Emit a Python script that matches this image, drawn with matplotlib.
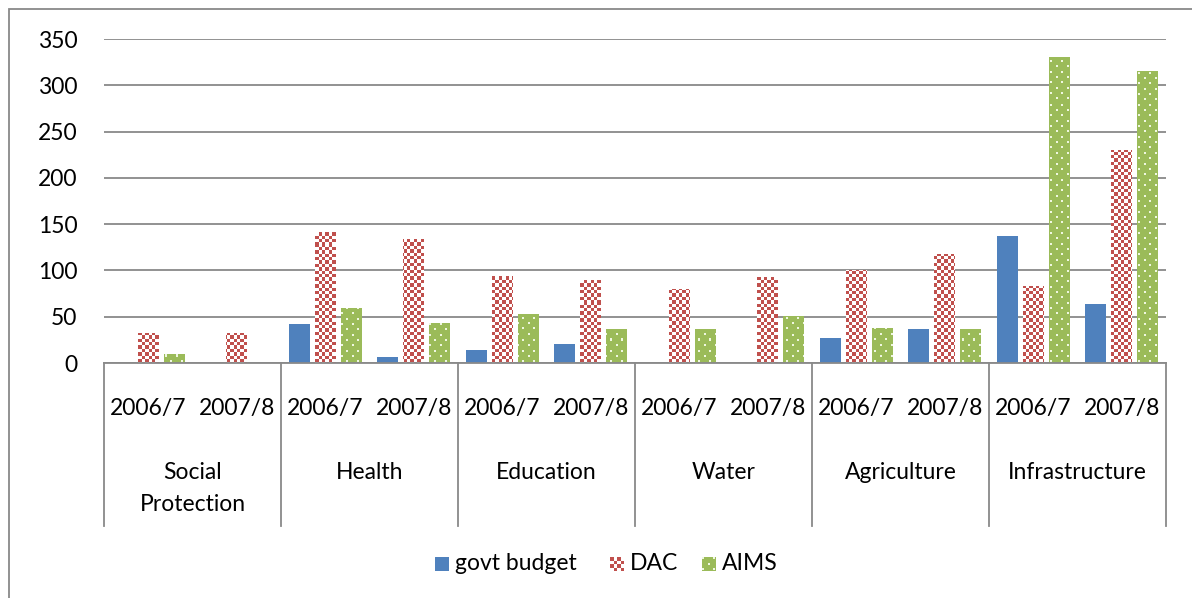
import matplotlib
matplotlib.use("Agg")
import matplotlib.pyplot as plt
import numpy as np
from matplotlib.patches import Rectangle
from matplotlib.lines import Line2D

plt.rcParams["font.family"] = ["Lato", "DejaVu Sans"]

sectors = ["Social\nProtection", "Health", "Education", "Water", "Agriculture", "Infrastructure"]
years = ["2006/7", "2007/8"]
series = ["govt budget", "DAC", "AIMS"]

# one value per sector/year, in sector order
govt_budget = [0, 0, 42, 7, 14, 20, 0, 0, 27, 37, 137, 64]
dac = [32, 32, 142, 134, 94, 90, 80, 93, 100, 118, 83, 230]
aims = [10, 0, 59, 43, 53, 37, 37, 51, 38, 37, 331, 315]

BLUE = "#4F81BD"
RED = "#C0504D"
GREEN = "#9BBB59"
GRID = "#898989"
FS = 16.5

W, H, DPI = 1192, 598, 100
fig = plt.figure(figsize=(W / DPI, H / DPI), dpi=DPI)
left, right, top, bottom = 104, 1166, 39, 363
ax = fig.add_axes([left / W, 1 - bottom / H, (right - left) / W, (bottom - top) / H])


def pattern(kind, w, h):
    yy, xx = np.mgrid[0:h, 0:w].astype(float)
    img = np.ones((h, w, 3))
    if kind == "checker":
        on = ((xx // 3.4) + (yy // 3.4)) % 2 == 0
        img[on] = matplotlib.colors.to_rgb(RED)
    else:
        img[:] = matplotlib.colors.to_rgb(GREEN)
        dots = ((xx % 11 < 2) & (yy % 10.7 < 2)) | (((xx + 5.5) % 11 < 2) & ((yy + 5.35) % 10.7 < 2))
        img[dots] = (0.94, 0.97, 0.88)
    return img


n = len(govt_budget)
x = np.arange(n)
pitch, width = 0.294, 0.234
xlim = (-0.5, n - 0.5)
ylim = (0, 350)

ax.bar(x - pitch, govt_budget, width, color=BLUE, zorder=2)
dac_bars = ax.bar(x, dac, width, color="none", linewidth=0, zorder=2)
aims_bars = ax.bar(x + pitch, aims, width, color="none", linewidth=0, zorder=2)

pw, ph = right - left, bottom - top
for bars, kind in [(dac_bars, "checker"), (aims_bars, "dots")]:
    img = pattern(kind, pw, ph)
    for b in bars:
        im = ax.imshow(img, extent=(*xlim, *ylim), aspect="auto",
                       interpolation="nearest", zorder=2.5)
        im.set_clip_path(b)

ax.set_xlim(*xlim)
ax.set_ylim(*ylim)
ax.set_yticks(np.arange(0, 351, 50))
ax.yaxis.grid(True, color=GRID, linewidth=1.3)
ax.set_axisbelow(True)
ax.tick_params(axis="y", length=0, pad=19, labelsize=FS)
ax.set_xticks([])
for s in ["top", "right", "left"]:
    ax.spines[s].set_visible(False)
ax.spines["bottom"].set_color(GRID)
ax.spines["bottom"].set_linewidth(1.3)

# two-level category axis below the plot
trans = ax.get_xaxis_transform()
depth = -(526 - bottom) / ph
for edge in np.arange(-0.5, n, 2):
    ax.add_line(Line2D([edge, edge], [0, depth], transform=trans, color=GRID,
                       linewidth=1.3, clip_on=False))
for i in x:
    ax.text(i, -(409 - bottom) / ph, years[i % 2], transform=trans,
            ha="center", va="center", fontsize=FS)
for k, name in enumerate(sectors):
    ax.text(2 * k + 0.5, -(462 - bottom) / ph, name, transform=trans,
            ha="center", va="top", fontsize=FS, linespacing=1.65)

# legend with patterned swatches
swatches = [(435, None), (610, "checker"), (702, "dots")]
label_x = [455, 630, 722]
for (sx, kind), lx, label in zip(swatches, label_x, series):
    sax = fig.add_axes([sx / W, 1 - 571 / H, 14 / W, 14 / H])
    sax.set_axis_off()
    if kind is None:
        sax.add_patch(Rectangle((0, 0), 1, 1, color=BLUE))
    else:
        sax.imshow(pattern(kind, 14, 14), extent=(0, 1, 0, 1), aspect="auto",
                   interpolation="nearest")
    sax.set_xlim(0, 1)
    sax.set_ylim(0, 1)
    fig.text(lx / W, 1 - 564 / H, label, ha="left", va="center", fontsize=FS)

# chart border
fig.add_artist(Rectangle((9 / W, -0.1), 2, 1 - 9 / H + 0.1, transform=fig.transFigure,
                         fill=False, edgecolor=GRID, linewidth=1.3))

fig.savefig("out.png", dpi=DPI)
